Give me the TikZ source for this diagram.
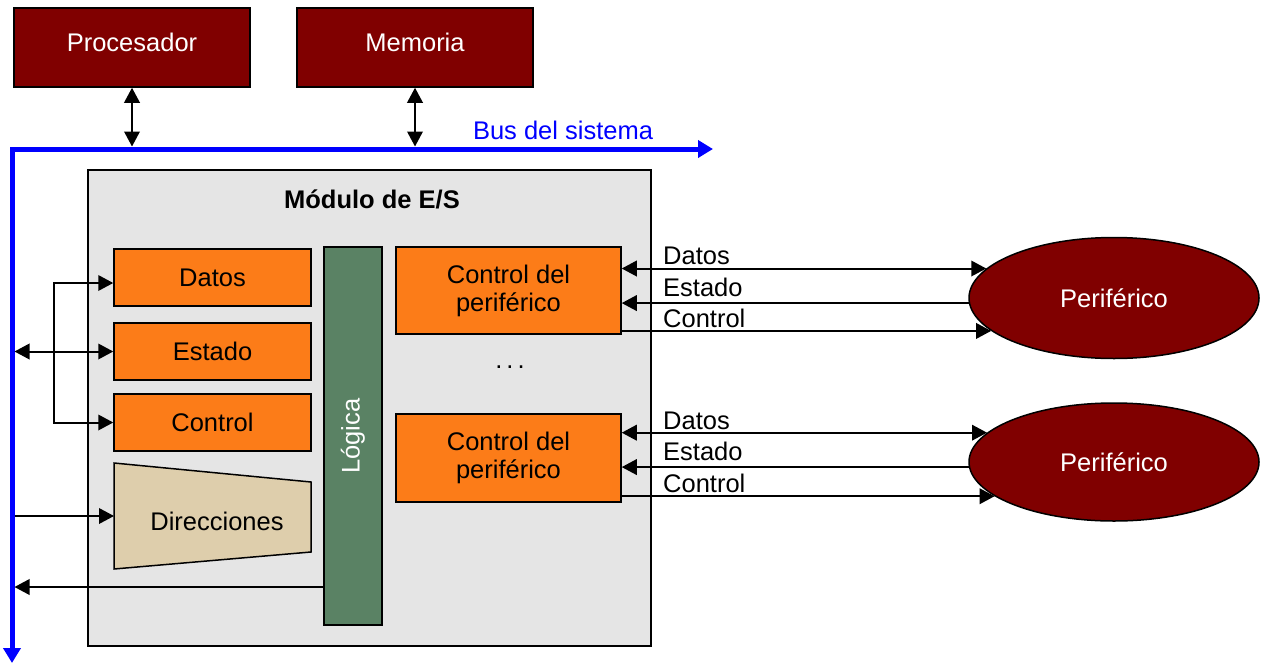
\documentclass[tikz,border=0pt]{standalone}
\usepackage{fontspec}
\setmainfont{Liberation Sans}
\usetikzlibrary{arrows.meta,shapes.geometric,calc}
\definecolor{dkred}{RGB}{128,0,0}
\definecolor{orng}{RGB}{252,124,24}
\definecolor{lgreen}{RGB}{90,130,100}
\definecolor{tanc}{RGB}{222,206,172}
\definecolor{modgray}{RGB}{229,229,229}
\definecolor{busblue}{RGB}{0,0,255}
\begin{document}
\begin{tikzpicture}[x=1pt,y=-1pt,
  font=\fontsize{25.5}{28}\selectfont,
  topbox/.style={draw=black,line width=1.5pt,fill=dkred,text=white,minimum width=236pt,minimum height=79pt,inner sep=0pt,text depth=10pt},
  regbox/.style={draw=black,line width=1.5pt,fill=orng,minimum width=197pt,minimum height=57pt,inner sep=0pt},
  ctlbox/.style={draw=black,line width=1.5pt,fill=orng,minimum width=225pt,inner sep=0pt,align=center},
  periph/.style={ellipse,draw=black,line width=1.5pt,fill=dkred,text=white,minimum width=290pt,inner sep=0pt},
  arr/.style={line width=2pt,-{Triangle[length=15pt,width=15.5pt]}},
  dblarr/.style={line width=2pt,{Triangle[length=15pt,width=15.5pt]}-{Triangle[length=15pt,width=15.5pt]}},
  busline/.style={line width=5pt,draw=busblue,line join=miter,{Triangle[length=15pt,width=17pt]}-{Triangle[length=15pt,width=17pt]}},
  lbl/.style={anchor=west,inner sep=0pt}
]
\useasboundingbox (0,0) rectangle (1261,664);

% top boxes
\node[topbox] (proc) at (132,47.5) {Procesador};
\node[topbox] (mem) at (415,47.5) {Memoria};

% bus
\coordinate (busorigin) at (12,149);
\coordinate (busend) at (713,149);
\coordinate (busbottom) at (12,663);
\coordinate (busT) at (0,146.5);
\coordinate (bx) at (14.5,0);
\draw[busline] (busend) -- (busorigin) -- (busbottom);
\node[text=busblue] (buslbl) at (563,130) {Bus del sistema};

\draw[dblarr] (proc.south) -- (proc.south |- busT);
\draw[dblarr] (mem.south) -- (mem.south |- busT);

% module
\node[draw=black,line width=1.8pt,fill=modgray,minimum width=563pt,minimum height=476pt,inner sep=0pt] (mod) at (369.5,408) {};
\node[font=\fontsize{25.5}{28}\selectfont\bfseries] (modlbl) at (372,199) {Módulo de E/S};

% registers
\node[regbox] (dat) at (212.5,277.5) {Datos};
\node[regbox] (est) at (212.5,351.5) {Estado};
\node[regbox] (ctl) at (212.5,422.5) {Control};
\draw[line width=1.5pt,fill=tanc] (114,463) -- (311,482) -- (311,552) -- (114,569) -- cycle;
\node (dir) at (217,521) {Direcciones};
\coordinate (dirin) at (114,516);

% logic
\node[draw=black,line width=1.5pt,fill=lgreen,text=white,rotate=90,minimum width=378pt,minimum height=58pt,inner sep=0pt] (log) at (353,436) {Lógica};

% left connections
\coordinate (br) at (54,0);
\draw[dblarr] (bx |- est.west) -- (est.west);
\draw[arr] (br |- est.west) |- ([yshift=-5.5pt]dat.west);
\draw[arr] (br |- est.west) |- (ctl.west);
\draw[arr] (bx |- dirin) -- (dirin);
\coordinate (logout) at (324,587);
\draw[arr] (logout) -- (bx |- logout);

% peripheral controllers
\node[ctlbox,minimum height=87pt] (cp1) at (508.5,290.5) {Control del\\periférico};
\node[ctlbox,minimum height=88pt] (cp2) at (508.5,458) {Control del\\periférico};
\node (dots) at (510,367) {.\kern4pt.\kern4pt.};

% peripherals
\node[periph,minimum height=121pt] (p1) at (1114,298) {Periférico};
\node[periph,minimum height=118pt] (p2) at (1114,462) {Periférico};

\draw[dblarr] (cp1.east |- p1.167.66) -- (p1.167.66);
\draw[arr] (p1.182.2) -- (cp1.east |- p1.182.2);
\draw[arr] (cp1.east |- p1.195.88) -- (p1.195.88);
\draw[dblarr] (cp2.east |- p2.167.62) -- (p2.167.62);
\draw[arr] (p2.182.0) -- (cp2.east |- p2.182.0);
\draw[arr] (cp2.east |- p2.196.0) -- (p2.196.0);

\node[lbl] (d1) at (663,256) {Datos};
\node[lbl] (e1) at (663,287) {Estado};
\node[lbl] (c1) at (663,318) {Control};
\node[lbl] (d2) at (663,421) {Datos};
\node[lbl] (e2) at (663,451) {Estado};
\node[lbl] (c2) at (663,483) {Control};
\end{tikzpicture}
\end{document}
